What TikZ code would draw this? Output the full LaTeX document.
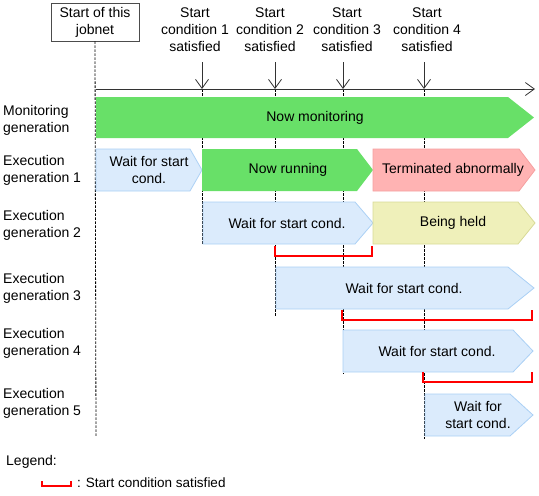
\documentclass[tikz,border=0pt]{standalone}
\usepackage{fontspec}
\setmainfont{Liberation Sans}
\usetikzlibrary{arrows.meta}

\definecolor{rungreen}{RGB}{104,224,104}
\definecolor{waitfill}{RGB}{219,235,252}
\definecolor{waitline}{RGB}{170,208,245}
\definecolor{abfill}{RGB}{255,179,179}
\definecolor{abline}{RGB}{245,160,160}
\definecolor{heldfill}{RGB}{239,240,186}
\definecolor{heldline}{RGB}{216,218,150}

\begin{document}
\begin{tikzpicture}[x=1pt, y=-1pt, font=\fontsize{14}{17}\selectfont,
    tip/.style={-{Straight Barb[length=9pt,width=13pt]}, line width=0.8pt, draw=black!80},
    guide/.style={dash pattern=on 2.5pt off 1.5pt, line width=0.8pt},
    runbar/.style={fill=rungreen},
    waitbar/.style={fill=waitfill, draw=waitline, line width=0.8pt},
    abendbar/.style={fill=abfill, draw=abline, line width=0.8pt},
    heldbar/.style={fill=heldfill, draw=heldline, line width=0.8pt},
    okmark/.style={draw=red, line width=2pt},
    rowlabel/.style={anchor=west, align=left, inner sep=0pt},
    phase/.style={align=center, inner sep=0pt}]
    \useasboundingbox (0,0) rectangle (539,496);

    \node[draw=black!70, line width=0.8pt, align=center, minimum width=88pt, minimum height=38pt] (jobnet) at (95,22) {Start of this\\jobnet};
    \node[align=center] (c1) at (195,30) {Start\\condition 1\\satisfied};
    \node[align=center] (c2) at (270,30) {Start\\condition 2\\satisfied};
    \node[align=center] (c3) at (347,30) {Start\\condition 3\\satisfied};
    \node[align=center] (c4) at (427,30) {Start\\condition 4\\satisfied};

    \coordinate (t0) at (96,89);
    \coordinate (tend) at (535,89);
    \coordinate (a1) at (202,62); \coordinate (s1) at (202,89);
    \coordinate (a2) at (275,62); \coordinate (s2) at (275,89);
    \coordinate (a3) at (343,62); \coordinate (s3) at (343,89);
    \coordinate (a4) at (424,62); \coordinate (s4) at (424,89);

    % time axis and start conditions
    \draw[guide] (jobnet.south) -- (96,437);
    \draw[guide] (s1) -- (202,244);
    \draw[guide] (s2) -- (275,317);
    \draw[guide] (s3) -- (343,374);
    \draw[guide] (s4) -- (424,439);
    \draw[tip] (t0) -- (tend);
    \draw[tip] (a1) -- (s1);
    \draw[tip] (a2) -- (s2);
    \draw[tip] (a3) -- (s3);
    \draw[tip] (a4) -- (s4);

    \node[rowlabel] (lmon) at (3,120.5) {Monitoring\\generation};
    \node[rowlabel] (lgen1) at (3,170.5) {Execution\\generation 1};
    \node[rowlabel] (lgen2) at (3,225) {Execution\\generation 2};
    \node[rowlabel] (lgen3) at (3,288) {Execution\\generation 3};
    \node[rowlabel] (lgen4) at (3,343.5) {Execution\\generation 4};
    \node[rowlabel] (lgen5) at (3,403) {Execution\\generation 5};

    % generations
    \fill[runbar] (96,97) -- (508,97) -- (534,117.5) -- (508,138) -- (96,138) -- cycle;
    \node[phase] (monitoring) at (315,117.5) {Now monitoring};

    \draw[waitbar] (96,149) -- (190,149) -- (202,170) -- (190,191) -- (96,191) -- cycle;
    \node[phase] (wait1) at (149,170) {Wait for start\\cond.};
    \fill[runbar] (202,149) -- (357,149) -- (373,170) -- (357,191) -- (202,191) -- cycle;
    \node[phase] (run1) at (288,170) {Now running};
    \draw[abendbar] (373,149) -- (519,149) -- (535,170) -- (519,191) -- (373,191) -- cycle;
    \node[phase] (abend1) at (453,170) {Terminated abnormally};

    \draw[waitbar] (203,202) -- (355,202) -- (373,223) -- (355,244) -- (203,244) -- cycle;
    \node[phase] (wait2) at (287,223) {Wait for start cond.};
    \draw[heldbar] (373,202) -- (518,202) -- (535,223) -- (518,244) -- (373,244) -- cycle;
    \node[phase] (held2) at (453,223) {Being held};
    \draw[okmark] (275,246) -- (275,256) -- (372,256) -- (372,246);

    \draw[waitbar] (276,267) -- (508,267) -- (534,288) -- (508,309) -- (276,309) -- cycle;
    \node[phase] (wait3) at (404,288) {Wait for start cond.};
    \draw[okmark] (342,310) -- (342,320) -- (532,320) -- (532,310);

    \draw[waitbar] (343,330) -- (513,330) -- (533,351) -- (513,372) -- (343,372) -- cycle;
    \node[phase] (wait4) at (437,351) {Wait for start cond.};
    \draw[okmark] (423,372) -- (423,382) -- (532,382) -- (532,372);

    \draw[waitbar] (425,394) -- (510,394) -- (533,415) -- (510,436) -- (425,436) -- cycle;
    \node[phase] (wait5) at (478,415) {Wait for\\start cond.};

    % legend
    \node[rowlabel] (legend) at (6,462) {Legend:};
    \draw[okmark] (42,481) -- (42,486) -- (71,486) -- (71,481);
    \node[rowlabel, font=\fontsize{13.5}{15}\selectfont] (legtext) at (77,483) {: Start condition satisfied};
\end{tikzpicture}
\end{document}
